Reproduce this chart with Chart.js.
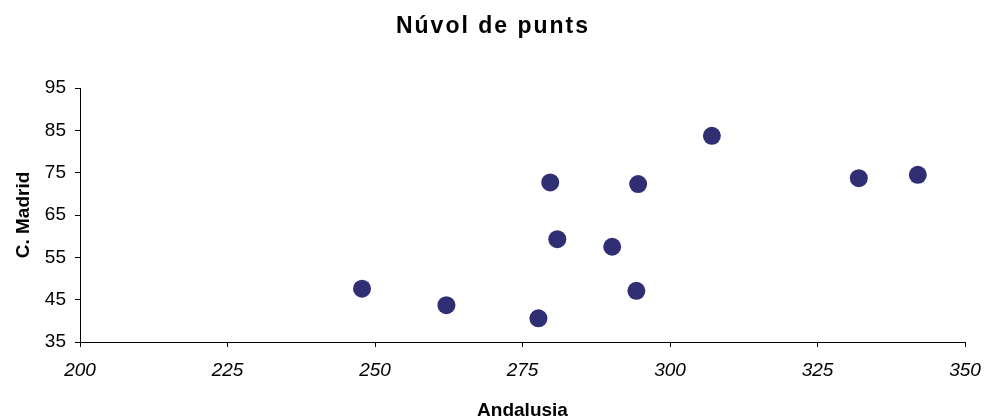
<!DOCTYPE html>
<html>
<head>
<meta charset="utf-8">
<title>Núvol de punts</title>
<script src="https://cdn.jsdelivr.net/npm/chart.js@4"></script>
<style>
  html, body { margin: 0; padding: 0; background: #fff; }
  #wrap { width: 984px; height: 420px; }
</style>
</head>
<body>
<div id="wrap"><canvas id="scatter" width="984" height="420"></canvas></div>
<script>
// Andalusia (x) vs C. Madrid (y)
const andalusia = [247.8, 262.1, 277.7, 279.7, 280.9, 290.2, 294.3, 294.6, 307.1, 332.0, 342.0];
const madrid    = [47.6, 43.7, 40.6, 72.7, 59.3, 57.5, 47.1, 72.3, 83.7, 73.7, 74.5];

const xTicks = [200, 225, 250, 275, 300, 325, 350];
const yTicks = [35, 45, 55, 65, 75, 85, 95];

const FONT = "'Liberation Sans', Arial, Helvetica, sans-serif";
const pointColor = '#312f73';

const points = andalusia.map((x, i) => ({ x: x, y: madrid[i] }));

// spaced-out title, centred on the whole canvas rather than the padded box
const spacedTitle = {
  id: 'spacedTitle',
  afterInit(chart) {
    const block = chart.titleBlock;
    if (!block) return;
    const draw = block.draw;
    block.draw = function () {
      const ctx = this.ctx;
      ctx.save();
      ctx.letterSpacing = '2px';
      ctx.translate(chart.width / 2 - (this.left + this.right) / 2 + 1, 0);
      draw.apply(this, arguments);
      ctx.restore();
    };
  }
};

new Chart(document.getElementById('scatter'), {
  type: 'scatter',
  data: {
    datasets: [{
      label: 'C. Madrid',
      data: points,
      backgroundColor: pointColor,
      borderColor: pointColor,
      borderWidth: 0,
      pointRadius: 9,
      pointHoverRadius: 9
    }]
  },
  options: {
    responsive: false,
    animation: false,
    layout: { padding: { left: 0, right: 19, top: 0, bottom: 0 } },
    plugins: {
      legend: { display: false },
      tooltip: { enabled: false },
      title: {
        display: true,
        text: 'Núvol de punts',
        color: '#000',
        font: { family: FONT, size: 23, weight: 'bold' },
        padding: { top: 13.2, bottom: 47.2 }
      }
    },
    scales: {
      x: {
        type: 'linear',
        min: 200,
        max: 350,
        afterBuildTicks: axis => { axis.ticks = xTicks.map(v => ({ value: v })); },
        afterFit: axis => {
          axis.height = 78;
          // let the end labels hang into the outer margin
          axis.paddingLeft = 0;
          axis.paddingRight = 0;
        },
        grid: { drawOnChartArea: false, drawTicks: true, tickLength: 5, color: '#000' },
        border: { color: '#000', width: 1 },
        ticks: {
          color: '#000',
          padding: 12,
          maxRotation: 0,
          font: { family: FONT, size: 19, style: 'italic' }
        },
        title: {
          display: true,
          text: 'Andalusia',
          color: '#000',
          font: { family: FONT, size: 19, weight: 'bold' },
          padding: { top: 0, bottom: -2 }
        }
      },
      y: {
        type: 'linear',
        min: 35,
        max: 95,
        afterBuildTicks: axis => { axis.ticks = yTicks.map(v => ({ value: v })); },
        afterFit: axis => { axis.width = 80; },
        grid: { drawOnChartArea: false, drawTicks: true, tickLength: 5, color: '#000' },
        border: { color: '#000', width: 1 },
        ticks: {
          color: '#000',
          padding: 9,
          font: { family: FONT, size: 19 }
        },
        title: {
          display: true,
          text: 'C. Madrid',
          color: '#000',
          font: { family: FONT, size: 19, weight: 'bold' },
          padding: { top: 12, bottom: 0 }
        }
      }
    }
  },
  plugins: [spacedTitle]
});
</script>
</body>
</html>
